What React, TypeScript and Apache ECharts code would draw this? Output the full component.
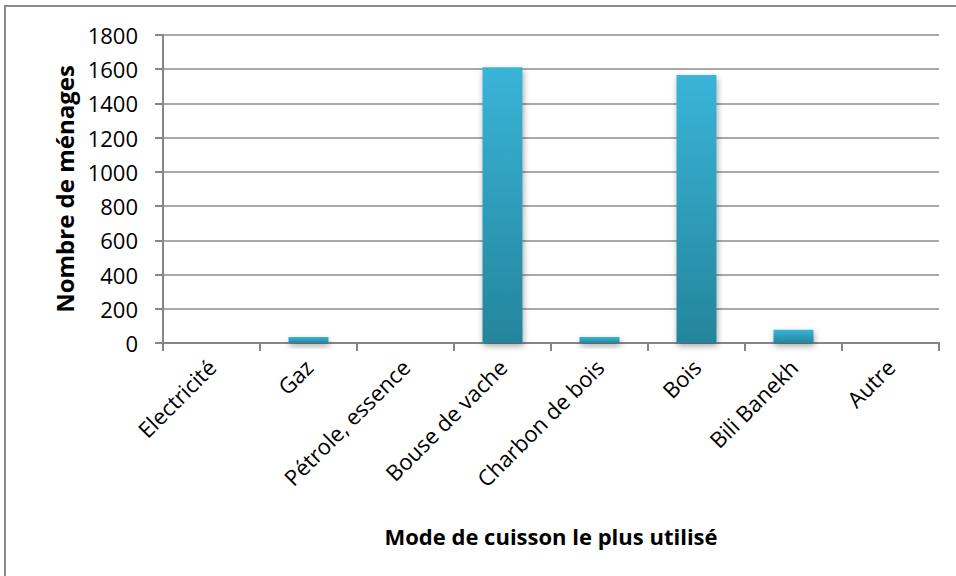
import React, { useEffect, useRef } from "react";
import * as echarts from "echarts";

const categories = [
  "Electricité",
  "Gaz",
  "Pétrole, essence",
  "Bouse de vache",
  "Charbon de bois",
  "Bois",
  "Bili Banekh",
  "Autre",
];
const households = [0, 35, 0, 1612, 35, 1566, 78, 0];
const yTicks = { min: 0, max: 1800, interval: 200 };
const xAxisTitle = "Mode de cuisson le plus utilisé";
const yAxisTitle = "Nombre de ménages";

const FONT = "'Open Sans', 'Noto Sans', sans-serif";

export default function App() {
  const ref = useRef<HTMLDivElement>(null);
  useEffect(() => {
    if (!ref.current) return;
    const chart = echarts.init(ref.current, null, { renderer: "svg" });
    chart.setOption({
      animation: false,
      backgroundColor: "#ffffff",
      textStyle: { fontFamily: FONT },
      grid: { left: 163, right: 17, top: 35, bottom: 233, containLabel: false },
      xAxis: {
        type: "category",
        data: categories,
        name: xAxisTitle,
        nameLocation: "middle",
        nameGap: 182,
        nameTextStyle: { fontFamily: FONT, fontSize: 22, fontWeight: "bold", color: "#000" },
        axisLine: { lineStyle: { color: "#868686", width: 2 } },
        axisTick: { show: true, alignWithLabel: false, length: 8, inside: false, lineStyle: { color: "#868686", width: 2 } },
        axisLabel: { rotate: 45, margin: 20, fontFamily: FONT, fontSize: 22, color: "#000", interval: 0 },
        splitLine: { show: false },
      },
      yAxis: {
        type: "value",
        min: yTicks.min,
        max: yTicks.max,
        interval: yTicks.interval,
        name: yAxisTitle,
        nameLocation: "middle",
        nameGap: 86,
        nameTextStyle: { fontFamily: FONT, fontSize: 24, fontWeight: "bold", color: "#000" },
        axisLine: { show: true, lineStyle: { color: "#868686", width: 2 } },
        axisTick: { show: true, length: 8, lineStyle: { color: "#868686", width: 2 } },
        axisLabel: {
          margin: 25,
          fontFamily: FONT,
          fontSize: 22,
          color: "#000",
          formatter: (v: number) => String(v),
        },
        splitLine: { show: true, lineStyle: { color: "#8c8c8c", width: 1.5 } },
      },
      series: [
        {
          type: "bar",
          data: households,
          barWidth: 40,
          itemStyle: {
            color: new echarts.graphic.LinearGradient(0, 0, 0, 1, [
              { offset: 0, color: "#3ab4d8" },
              { offset: 1, color: "#24859c" },
            ]),
            shadowColor: "rgba(0,0,0,0.35)",
            shadowBlur: 6,
            shadowOffsetY: 3,
            shadowOffsetX: 1,
          },
        },
      ],
      graphic: [
        {
          type: "rect",
          shape: { x: 5, y: 6, width: 1200, height: 800 },
          style: { fill: "none", stroke: "#8a8a8a", lineWidth: 2 },
          silent: true,
          z: 100,
        },
      ],
    });
    return () => chart.dispose();
  }, []);
  return (
    <div
      ref={ref}
      style={{ position: "fixed", left: 0, top: 0, width: 956, height: 576 }}
    />
  );
}
